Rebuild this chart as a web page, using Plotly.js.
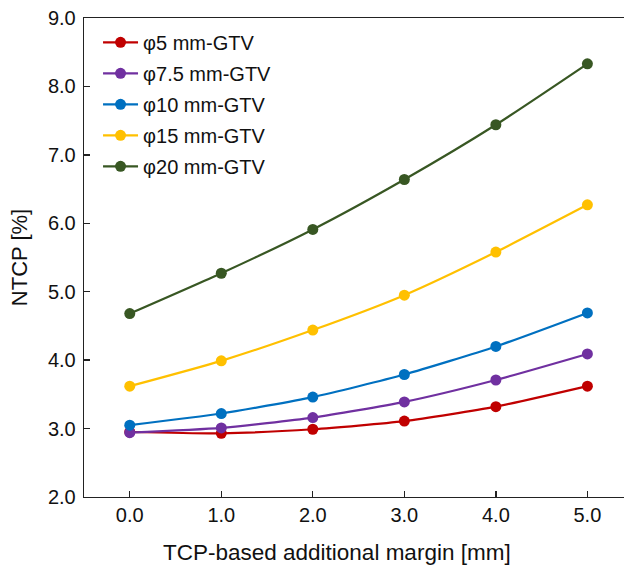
<!DOCTYPE html>
<html>
<head>
<meta charset="utf-8">
<script src="https://cdn.plot.ly/plotly-3.0.1.min.js"></script>
<style>html,body{margin:0;padding:0;background:#fff;}#chart{width:624px;height:565px;}</style>
</head>
<body>
<div id="chart"></div>
<script>
const margins = [0, 1, 2, 3, 4, 5];
const seriesNames = ["φ5 mm-GTV", "φ7.5 mm-GTV", "φ10 mm-GTV", "φ15 mm-GTV", "φ20 mm-GTV"];
const gtv5 = [2.95, 2.93, 2.99, 3.11, 3.32, 3.62];
const gtv7_5 = [2.94, 3.01, 3.16, 3.39, 3.71, 4.09];
const gtv10 = [3.05, 3.22, 3.46, 3.79, 4.20, 4.69];
const gtv15 = [3.62, 3.99, 4.44, 4.95, 5.58, 6.27];
const gtv20 = [4.68, 5.27, 5.91, 6.64, 7.44, 8.33];
const seriesValues = [gtv5, gtv7_5, gtv10, gtv15, gtv20];
const colors = ["#C00000", "#7030A0", "#0070C0", "#FFC000", "#385723"];
const xTickVals = [0, 1, 2, 3, 4, 5];
const xTickText = ["0.0", "1.0", "2.0", "3.0", "4.0", "5.0"];
const yTickVals = [2, 3, 4, 5, 6, 7, 8, 9];
const yTickText = ["2.0", "3.0", "4.0", "5.0", "6.0", "7.0", "8.0", "9.0"];
const xTitle = "TCP-based additional margin [mm]";
const yTitle = "NTCP [%]";

const traces = seriesValues.map((vals, i) => ({
  x: margins,
  y: vals,
  name: seriesNames[i],
  legendgroup: "g" + i,
  type: "scatter",
  mode: "lines+markers",
  line: {color: colors[i], width: 2.2, shape: "spline", smoothing: 0.6},
  marker: {color: colors[i], size: 11}
}));

const fontFam = "Liberation Sans, Arial, sans-serif";
const layout = {
  width: 624, height: 565,
  margin: {l: 84, r: 0, t: 18, b: 68},
  paper_bgcolor: "#fff", plot_bgcolor: "#fff",
  font: {family: fontFam, size: 20, color: "#111"},
  showlegend: true,
  legend: {x: 0.026, y: 0.99, xanchor: "left", yanchor: "top", bgcolor: "rgba(0,0,0,0)",
           font: {family: fontFam, size: 20, color: "#111"}, tracegroupgap: 2, itemwidth: 35},
  xaxis: {
    range: [-0.5, 5.4], tickvals: xTickVals, ticktext: xTickText,
    showgrid: false, zeroline: false, showline: true, linecolor: "#222", linewidth: 1.3,
    mirror: true, ticks: "inside", ticklen: 6, tickcolor: "#222", tickwidth: 1.3,
    tickfont: {family: fontFam, size: 20, color: "#111"}
  },
  yaxis: {
    range: [2, 9], tickvals: yTickVals, ticktext: yTickText,
    showgrid: false, zeroline: false, showline: true, linecolor: "#222", linewidth: 1.3,
    ticks: "inside", ticklen: 6, tickcolor: "#222", tickwidth: 1.3, ticklabelstandoff: 3,
    tickfont: {family: fontFam, size: 20, color: "#111"},
    title: {text: yTitle, font: {family: fontFam, size: 22, color: "#111"}, standoff: 14}
  },
  annotations: [{
    text: xTitle, xref: "paper", yref: "paper", x: 0.4685, y: -0.115,
    xanchor: "center", yanchor: "middle", showarrow: false,
    font: {family: fontFam, size: 22.5, color: "#111"}
  }]
};
Plotly.newPlot("chart", traces, layout, {displayModeBar: false, staticPlot: true});
</script>
</body>
</html>
